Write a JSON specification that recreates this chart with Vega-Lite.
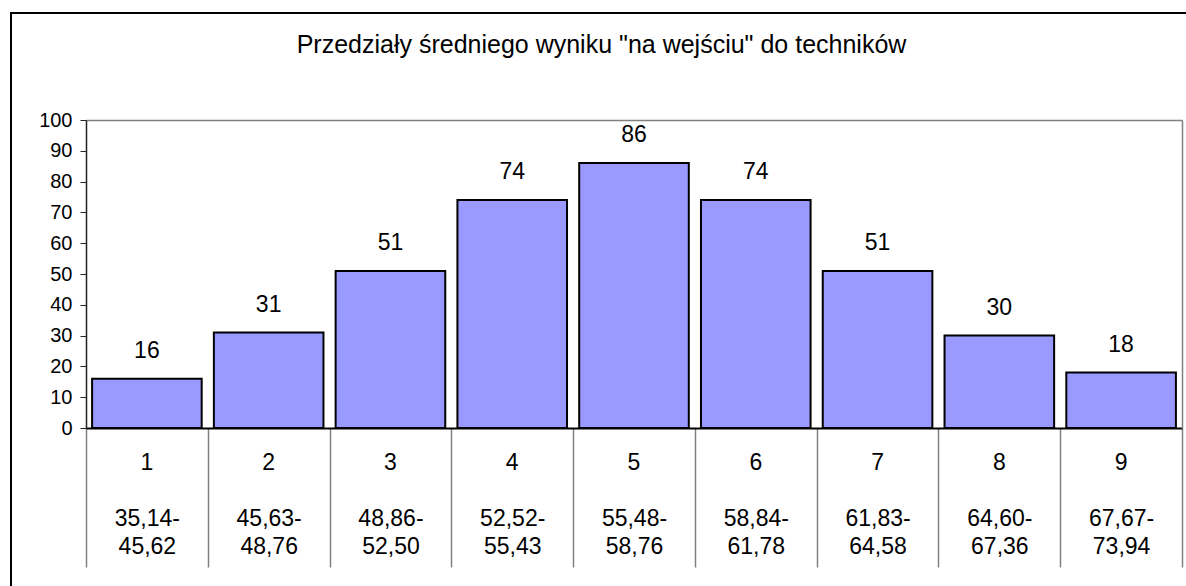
{
  "$schema": "https://vega.github.io/schema/vega-lite/v6.json",
  "width": 1181,
  "height": 579,
  "autosize": "none",
  "padding": {"left": 11, "top": 13, "right": -6, "bottom": -6},
  "background": "white",
  "title": {
    "text": "Przedziały średniego wyniku \"na wejściu\" do techników",
    "font": "Liberation Sans",
    "fontSize": 25,
    "fontWeight": "normal",
    "color": "black",
    "anchor": "middle",
    "frame": "group",
    "baseline": "middle",
    "offset": -57
  },
  "data": {
    "values": [
      {"kategoria": "1|35,14-|45,62", "liczba": 16},
      {"kategoria": "2|45,63-|48,76", "liczba": 31},
      {"kategoria": "3|48,86-|52,50", "liczba": 51},
      {"kategoria": "4|52,52-|55,43", "liczba": 74},
      {"kategoria": "5|55,48-|58,76", "liczba": 86},
      {"kategoria": "6|58,84-|61,78", "liczba": 74},
      {"kategoria": "7|61,83-|64,58", "liczba": 51},
      {"kategoria": "8|64,60-|67,36", "liczba": 30},
      {"kategoria": "9|67,67-|73,94", "liczba": 18}
    ]
  },
  "layer": [
    {
      "mark": {"type": "bar", "fill": "#9999FF", "stroke": "black", "strokeWidth": 2, "width": {"band": 0.9}},
      "encoding": {
        "x": {
          "field": "kategoria",
          "type": "nominal",
          "sort": null,
          "scale": {"range": [75, 1171], "paddingInner": 0, "paddingOuter": 0},
          "axis": {
            "orient": "bottom",
            "offset": -164,
            "title": null,
            "grid": false,
            "domainColor": "black",
            "domainWidth": 2,
            "tickBand": "extent",
            "tickSize": 139,
            "tickColor": "#808080",
            "tickWidth": 1.5,
            "labelExpr": "[split(datum.label,'|')[1], split(datum.label,'|')[2]]",
            "labelFont": "Liberation Sans",
            "labelFontSize": 23,
            "labelColor": "black",
            "labelAngle": 0,
            "labelBaseline": "top",
            "labelLineHeight": 28.5,
            "labelPadding": -60,
            "labelOverlap": false,
            "labelBound": false,
            "labelFlush": false
          }
        },
        "y": {
          "field": "liczba",
          "type": "quantitative",
          "scale": {"domain": [0, 100], "range": [415, 107], "nice": false},
          "axis": {
            "orient": "left",
            "offset": -75,
            "title": null,
            "grid": false,
            "values": [0, 10, 20, 30, 40, 50, 60, 70, 80, 90, 100],
            "domainColor": "#222222",
            "domainWidth": 1.5,
            "tickColor": "#222222",
            "tickSize": 6,
            "tickWidth": 1,
            "labelFont": "Liberation Sans",
            "labelFontSize": 20,
            "labelColor": "black",
            "labelPadding": 8,
            "labelFlush": false,
            "labelBound": false,
            "labelOverlap": false
          }
        }
      }
    },
    {
      "mark": {"type": "text", "font": "Liberation Sans", "fontSize": 23, "color": "black", "baseline": "middle", "dy": -28},
      "encoding": {
        "x": {
          "field": "kategoria",
          "type": "nominal",
          "sort": null,
          "axis": {
            "orient": "top",
            "offset": -107,
            "title": null,
            "ticks": false,
            "grid": false,
            "domainColor": "#808080",
            "domainWidth": 1.5,
            "labelExpr": "split(datum.label,'|')[0]",
            "labelFont": "Liberation Sans",
            "labelFontSize": 23,
            "labelColor": "black",
            "labelAngle": 0,
            "labelBaseline": "middle",
            "labelPadding": -342,
            "labelOverlap": false,
            "labelBound": false,
            "labelFlush": false
          }
        },
        "y": {
          "field": "liczba",
          "type": "quantitative",
          "axis": {"orient": "right", "offset": -10, "title": null, "labels": false, "ticks": false, "grid": false, "domainColor": "#808080", "domainWidth": 1.5}
        },
        "text": {"field": "liczba", "type": "quantitative"}
      }
    }
  ],
  "resolve": {"axis": {"x": "independent", "y": "independent"}},
  "config": {"view": {"stroke": "black", "strokeWidth": 2}}
}
